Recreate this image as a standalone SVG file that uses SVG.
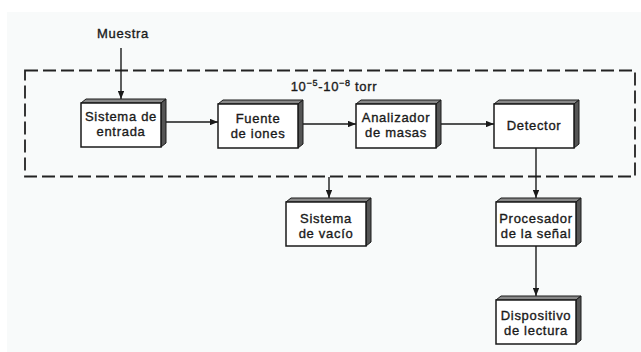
<svg xmlns="http://www.w3.org/2000/svg" xmlns:xlink="http://www.w3.org/1999/xlink" width="641" height="352" viewBox="0 0 641 352">
<style>
.t{font-family:"Liberation Sans",Arial,sans-serif;font-size:13px;letter-spacing:0.7px;fill:#1a1a1a;stroke:#1a1a1a;stroke-width:0.35;text-anchor:middle}
.c{stroke:#1a1a1a;stroke-width:1.4;fill:none}
.dash{stroke:#222;stroke-width:1.8;fill:none;stroke-dasharray:13 5}
.front{fill:#fff;stroke:#1a1a1a;stroke-width:1.5}
.top{fill:#888;stroke:#1a1a1a;stroke-width:1}
.side{fill:#555;stroke:#1a1a1a;stroke-width:1}
</style>
<defs>
<marker id="ah" viewBox="0 0 10 8" refX="10" refY="4" markerWidth="8" markerHeight="6.4" markerUnits="userSpaceOnUse" orient="auto">
<path d="M0,0 L10,4 L0,8 Z" fill="#1a1a1a"/>
</marker>
<g id="box3d">
<path class="top" d="M0,0 L5,-4 L85,-4 L80,0 Z"/>
<path class="side" d="M80,0 L85,-4 L85,40 L80,44 Z"/>
<rect class="front" x="0" y="0" width="80" height="44"/>
</g>
</defs>
<rect x="7" y="12" width="634" height="340" fill="#f8fafa"/>
<rect class="dash" x="25" y="70.5" width="610" height="106"/>
<text class="t" x="334" y="91">10<tspan dy="-5" font-size="9">−5</tspan><tspan dy="5">-10</tspan><tspan dy="-5" font-size="9">−8</tspan><tspan dy="5"> torr</tspan></text>
<g id="muestra"><text class="t" x="123" y="38">Muestra</text></g>
<g id="connectors">
<line class="c" x1="121" y1="48" x2="121" y2="99" marker-end="url(#ah)"/>
<line class="c" x1="166" y1="122" x2="218" y2="122" marker-end="url(#ah)"/>
<line class="c" x1="303" y1="124" x2="356" y2="124" marker-end="url(#ah)"/>
<line class="c" x1="441" y1="124" x2="494" y2="124" marker-end="url(#ah)"/>
<line class="c" x1="536" y1="148" x2="536" y2="198" marker-end="url(#ah)"/>
<line class="c" x1="329" y1="177" x2="329" y2="198" marker-end="url(#ah)"/>
<line class="c" x1="536" y1="246" x2="536" y2="296" marker-end="url(#ah)"/>
</g>
<g id="entrada"><use xlink:href="#box3d" x="81" y="103"/><text class="t" x="121" y="121">Sistema de</text><text class="t" x="121" y="136">entrada</text></g>
<g id="fuente"><use xlink:href="#box3d" x="218" y="104"/><text class="t" x="258" y="123">Fuente</text><text class="t" x="258" y="138">de iones</text></g>
<g id="analizador"><use xlink:href="#box3d" x="356" y="104"/><text class="t" x="396" y="122">Analizador</text><text class="t" x="396" y="137">de masas</text></g>
<g id="detector"><use xlink:href="#box3d" x="494" y="104"/><text class="t" x="534" y="130">Detector</text></g>
<g id="vacio"><use xlink:href="#box3d" x="286" y="202"/><text class="t" x="326" y="223">Sistema</text><text class="t" x="326" y="238">de vacío</text></g>
<g id="procesador"><use xlink:href="#box3d" x="496" y="202"/><text class="t" x="536" y="223">Procesador</text><text class="t" x="536" y="238">de la señal</text></g>
<g id="dispositivo"><use xlink:href="#box3d" x="496" y="300"/><text class="t" x="536" y="320">Dispositivo</text><text class="t" x="536" y="335">de lectura</text></g>
</svg>
